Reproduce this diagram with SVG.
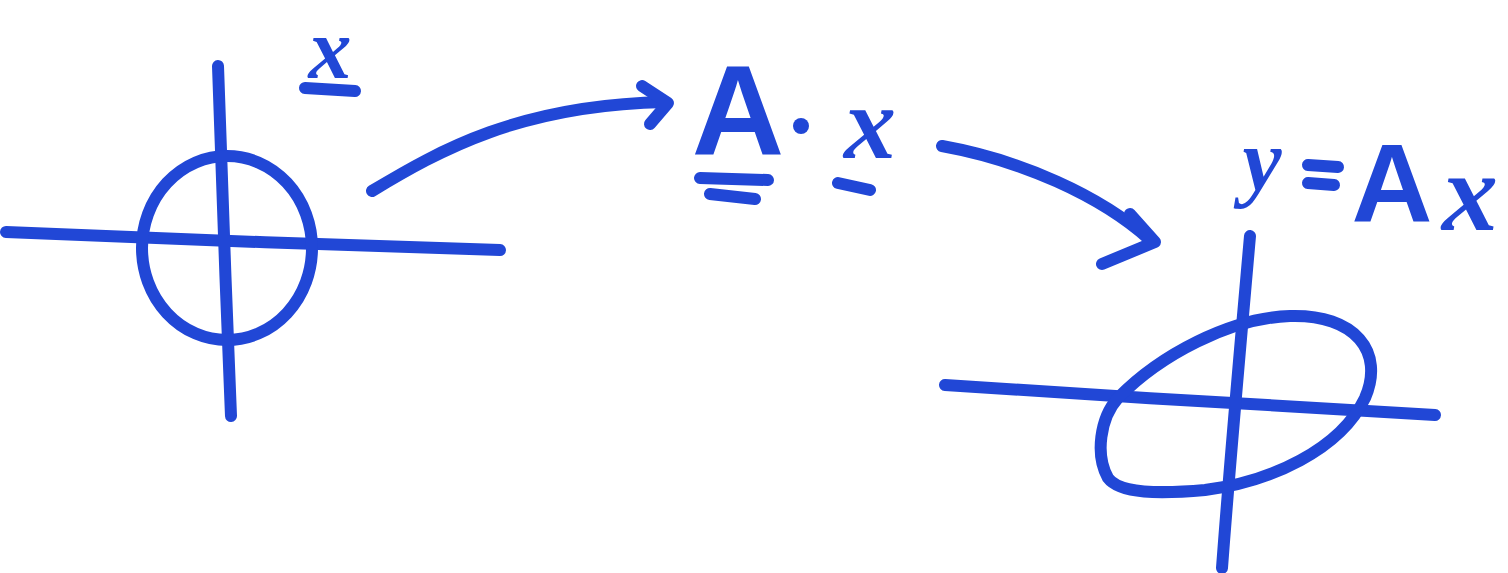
<svg xmlns="http://www.w3.org/2000/svg" width="1508" height="573" viewBox="0 0 1508 573">
<style>
.ink{fill:none;stroke:#2147d6;stroke-width:12;stroke-linecap:round;stroke-linejoin:round}
.t{fill:#2147d6;font-family:"Liberation Sans",Arial,sans-serif;font-weight:bold}
.v{fill:#2147d6;font-family:"Liberation Serif","Times New Roman",serif;font-style:italic;font-weight:bold}
</style>
<rect width="1508" height="573" fill="#ffffff"/>
<g id="left-plot">
<path class="ink" d="M6,232 C150,238 350,246 500,250"/>
<path class="ink" d="M218,66 C222,180 226,300 231,416"/>
<ellipse class="ink" cx="227" cy="248" rx="85" ry="92"/>
</g>
<g id="label-x">
<text class="v" x="330" y="78" font-size="86" text-anchor="middle">x</text>
<path class="ink" d="M305,88 L355,91" stroke-width="13"/>
</g>
<g id="label-Ax">
<text class="t" x="738" y="155" font-size="128" text-anchor="middle">A</text>
<circle cx="801" cy="126" r="8" fill="#2147d6"/>
<text class="v" x="870" y="158" font-size="104" text-anchor="middle">x</text>
<path class="ink" d="M700,178 L768,180 M710,194 L755,199 M838,183 L870,190"/>
</g>
<g id="label-yAx">
<text class="v" x="1262" y="190" font-size="88" text-anchor="middle">y</text>
<path class="ink" d="M1308,165 L1338,167 M1308,183 L1334,185"/>
<text class="t" x="1392" y="222" font-size="112" text-anchor="middle">A</text>
<text class="v" x="1470" y="230" font-size="112" text-anchor="middle">x</text>
</g>
<g id="right-plot">
<path class="ink" d="M945,385 C1100,395 1300,408 1435,415"/>
<path class="ink" d="M1250,236 C1240,350 1230,460 1222,568"/>
<path class="ink" d="M1118,398 C1160,355 1230,318 1290,316 C1355,314 1385,352 1365,398 C1340,450 1270,482 1205,490 C1160,494 1120,494 1108,478 C1095,455 1100,418 1118,398 Z"/>
</g>
<g id="connectors">
<path class="ink" d="M372,191 C440,150 520,105 665,102"/>
<path class="ink" d="M642,86 L668,103 L650,124"/>
<path class="ink" d="M942,146 C1020,160 1100,195 1150,240"/>
<path class="ink" d="M1130,214 L1155,242 L1102,264"/>
</g>
</svg>
